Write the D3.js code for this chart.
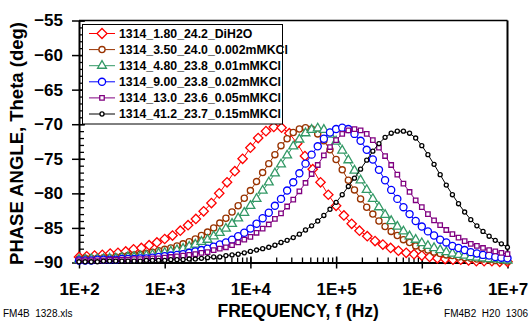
<!DOCTYPE html>
<html><head><meta charset="utf-8">
<script src="https://cdn.jsdelivr.net/npm/d3@7"></script>
<style>
html,body{margin:0;padding:0;background:#fff;}
svg{display:block;font-family:"Liberation Sans",Arial,sans-serif;}
text{white-space:pre;}
</style></head>
<body><svg id="chart" width="530" height="322"></svg>
<script>
// ---- data ----
const freqA = [100,123,152,187,231,285,351,433,534,658,811,
 1000,1233,1520,1874,2310,2848,3511,4329,5337,6579,8111,
 1e4,12328,15199,18738,23101,28480,35112,43288,53367,65793,81113,
 1e5,123285,151991,187382,231013,284804,351119,432876,533670,657933,811131,
 1e6,1232847,1519911,1873817,2310130,2848036,3511192,4328761,5336699,6579332,8111308,1e7];
const freqB = [100,117.9,139.0,163.8,193.1,227.6,268.3,316.2,372.8,439.4,517.9,610.5,719.7,848.3,
 1000,1179,1390,1638,1931,2276,2683,3162,3728,4394,5179,6105,7197,8483,
 1e4,11788,13895,16379,19307,22758,26827,31623,37276,43940,51795,61054,71969,84834,
 1e5,117877,138950,163789,193070,227585,268270,316228,372759,439397,517947,610540,719686,848343,
 1e6,1178769,1389495,1637894,1930698,2275846,2682696,3162278,3727594,4393971,5179475,6105402,7196857,8483429,1e7];

const thetaDiH2O = [-89.2,-89.1,-89.0,-88.9,-88.7,-88.6,-88.4,-88.1,-87.9,-87.5,
 -87.1,-86.6,-86.1,-85.4,-84.6,-83.7,-82.6,-81.4,-80.0,-78.4,
 -76.8,-75.0,-73.4,-72.0,-71.0,-70.4,-70.5,-71.3,-72.8,-74.6,
 -76.5,-78.4,-80.2,-81.8,-83.2,-84.4,-85.4,-86.2,-86.9,-87.4,
 -87.9,-88.3,-88.6,-88.8,-89.0,-89.2,-89.4,-89.5,-89.6,-89.6,
 -89.7,-89.8,-89.8,-89.8,-89.9,-89.9];
const theta0002 = [-89.5,-89.4,-89.4,-89.4,-89.3,-89.3,-89.2,-89.1,-89.0,-88.9,
 -88.8,-88.7,-88.5,-88.3,-88.1,-87.9,-87.6,-87.3,-87.0,-86.6,
 -86.1,-85.6,-85.0,-84.3,-83.6,-82.7,-81.8,-80.7,-79.6,-78.3,
 -77.0,-75.7,-74.4,-73.1,-72.1,-71.2,-70.7,-70.5,-70.7,-71.4,
 -72.4,-73.7,-75.1,-76.6,-78.1,-79.5,-80.8,-82.0,-83.0,-84.0,
 -84.8,-85.5,-86.1,-86.7,-87.1,-87.6,-87.9,-88.2,-88.5,-88.7,
 -88.9,-89.0,-89.2,-89.3,-89.4,-89.5,-89.5,-89.6,-89.7,-89.7,-89.8];
const theta001 = [-89.6,-89.6,-89.5,-89.5,-89.5,-89.4,-89.4,-89.3,-89.2,-89.2,
 -89.1,-89.0,-88.9,-88.7,-88.6,-88.4,-88.2,-88.0,-87.7,-87.4,
 -87.0,-86.7,-86.2,-85.7,-85.1,-84.4,-83.6,-82.8,-81.8,-80.8,
 -79.6,-78.4,-77.1,-75.8,-74.5,-73.2,-72.2,-71.3,-70.8,-70.6,
 -70.8,-71.5,-72.5,-73.8,-75.2,-76.7,-78.1,-79.5,-80.8,-82.0,
 -83.1,-84.0,-84.8,-85.5,-86.2,-86.7,-87.2,-87.6,-87.9,-88.2,
 -88.5,-88.7,-88.9,-89.0,-89.2,-89.3,-89.4,-89.5,-89.5,-89.6,-89.7];
const theta002 = [-89.7,-89.7,-89.7,-89.6,-89.6,-89.6,-89.6,-89.5,-89.5,-89.5,
 -89.4,-89.4,-89.3,-89.2,-89.1,-89.0,-88.9,-88.8,-88.6,-88.4,
 -88.2,-88.0,-87.7,-87.4,-87.1,-86.7,-86.2,-85.7,-85.1,-84.4,
 -83.6,-82.8,-81.8,-80.8,-79.6,-78.4,-77.1,-75.7,-74.4,-73.2,
 -72.1,-71.2,-70.7,-70.5,-70.7,-71.4,-72.4,-73.7,-75.1,-76.6,
 -78.1,-79.5,-80.8,-82.0,-83.0,-84.0,-84.8,-85.5,-86.1,-86.7,
 -87.1,-87.6,-87.9,-88.2,-88.5,-88.7,-88.9,-89.0,-89.2,-89.3,-89.4];
const theta005 = [-89.7,-89.7,-89.7,-89.7,-89.7,-89.6,-89.6,-89.6,-89.6,-89.5,
 -89.5,-89.5,-89.4,-89.4,-89.3,-89.2,-89.1,-89.0,-88.9,-88.8,
 -88.6,-88.5,-88.2,-88.0,-87.8,-87.5,-87.1,-86.7,-86.3,-85.7,
 -85.1,-84.5,-83.7,-82.9,-81.9,-80.9,-79.7,-78.5,-77.2,-75.9,
 -74.5,-73.3,-72.3,-71.4,-70.9,-70.7,-70.9,-71.4,-72.3,-73.4,
 -74.6,-75.9,-77.3,-78.6,-79.8,-81.0,-82.0,-83.0,-83.9,-84.6,
 -85.3,-85.9,-86.4,-86.9,-87.3,-87.6,-87.9,-88.2,-88.4,-88.6,-88.8];
const theta015 = [-89.9,-89.9,-89.9,-89.9,-89.8,-89.8,-89.8,-89.8,-89.8,-89.8,
 -89.8,-89.7,-89.7,-89.7,-89.7,-89.6,-89.6,-89.6,-89.5,-89.5,
 -89.4,-89.3,-89.2,-89.2,-89.0,-88.9,-88.8,-88.6,-88.4,-88.2,
 -88.0,-87.8,-87.5,-87.1,-86.8,-86.4,-85.9,-85.3,-84.7,-84.0,
 -83.2,-82.3,-81.3,-80.2,-79.0,-77.8,-76.5,-75.2,-73.9,-72.8,
 -71.9,-71.3,-71.0,-71.0,-71.3,-72.0,-73.1,-74.4,-75.8,-77.3,
 -78.8,-80.2,-81.5,-82.7,-83.8,-84.7,-85.5,-86.2,-86.8,-87.3,-87.8];

const seriesLabels = ["1314_1.80_24.2_DiH2O","1314_3.50_24.0_0.002mMKCl","1314_4.80_23.8_0.01mMKCl",
  "1314_9.00_23.8_0.02mMKCl","1314_13.0_23.6_0.05mMKCl","1314_41.2_23.7_0.15mMKCl"];
const seriesValues = [thetaDiH2O, theta0002, theta001, theta002, theta005, theta015];
const seriesFreqs = [freqA, freqB, freqB, freqB, freqB, freqB];
const seriesColors = ["#FF0000","#993300","#339966","#0000FF","#800080","#000000"];
const seriesSymbols = ["diamond","circle","triangle","circle","square","circle"];
const seriesSizes = [44, 30, 34, 40, 20, 13];

const xTickValues = [1e2,1e3,1e4,1e5,1e6,1e7];
const xTickLabels = ["1E+2","1E+3","1E+4","1E+5","1E+6","1E+7"];
const yTickValues = [-55,-60,-65,-70,-75,-80,-85,-90];

// ---- drawing ----
const svg = d3.select("#chart");
const L = 79, R = 507.5, T = 20.5, B = 262.5;
const x = d3.scaleLog().domain([1e2,1e7]).range([L,R]);
const y = d3.scaleLinear().domain([-90,-55]).range([B,T]);

const tickFont = "bold 17px 'Liberation Sans', Arial, sans-serif";

// minor ticks (inside)
const xMinor = [];
for (let e = 2; e < 7; e++) for (let m = 1; m <= 9; m++) xMinor.push(m * Math.pow(10, e));
xMinor.push(1e7);
svg.append("g").attr("transform", `translate(0,${B})`)
  .call(d3.axisBottom(x).tickValues(xMinor).tickSize(-5).tickSizeOuter(0).tickFormat(""))
  .call(g => g.select(".domain").remove())
  .call(g => g.selectAll("line").attr("stroke","#000").attr("stroke-width",1.3));
const yMinor = d3.range(-90, -54, 1);
svg.append("g").attr("transform", `translate(${L},0)`)
  .call(d3.axisLeft(y).tickValues(yMinor).tickSize(-5).tickSizeOuter(0).tickFormat(""))
  .call(g => g.select(".domain").remove())
  .call(g => g.selectAll("line").attr("stroke","#000").attr("stroke-width",1.3));

// plot frame (top, right)
svg.append("line").attr("x1",L).attr("x2",R).attr("y1",T).attr("y2",T).attr("stroke","#000").attr("stroke-width",1.5);
svg.append("line").attr("x1",R).attr("x2",R).attr("y1",T).attr("y2",B).attr("stroke","#000").attr("stroke-width",2);

// major axes
const xAxis = svg.append("g").attr("transform", `translate(0,${B})`)
  .call(d3.axisBottom(x).tickValues(xTickValues).tickSize(6).tickSizeOuter(0).tickPadding(14)
    .tickFormat((d,i) => xTickLabels[i]));
xAxis.select(".domain").attr("stroke","#000").attr("stroke-width",2);
xAxis.selectAll(".tick line").attr("y1",-6).attr("stroke","#000").attr("stroke-width",1.5);
xAxis.selectAll("text").style("font", tickFont).attr("fill","#000");

const yAxis = svg.append("g").attr("transform", `translate(${L},0)`)
  .call(d3.axisLeft(y).tickValues(yTickValues).tickSize(7).tickSizeOuter(0).tickPadding(9)
    .tickFormat(d3.format("d")));
yAxis.select(".domain").attr("stroke","#000").attr("stroke-width",2);
yAxis.selectAll(".tick line").attr("x1",6).attr("stroke","#000").attr("stroke-width",1.5);
yAxis.selectAll("text").style("font", tickFont).attr("fill","#000");

// series
function symbolPath(kind, size) {
  const t = kind === "circle" ? d3.symbolCircle : kind === "triangle" ? d3.symbolTriangle : d3.symbolSquare;
  return d3.symbol().type(t).size(size)();
}
const line = d3.line().x(d => x(d[0])).y(d => y(d[1]));
seriesValues.forEach((vals, si) => {
  const pts = vals.map((v, i) => [seriesFreqs[si][i], v]);
  const g = svg.append("g");
  g.append("path").attr("d", line(pts)).attr("fill","none")
    .attr("stroke", seriesColors[si]).attr("stroke-width", 1);
  g.selectAll("path.m").data(pts).enter().append("path").attr("class","m")
    .attr("d", symbolPath(seriesSymbols[si], seriesSizes[si]))
    .attr("transform", d => `translate(${x(d[0])},${y(d[1])})` + (seriesSymbols[si]==="diamond" ? " rotate(45)" : ""))
    .attr("fill","#fff").attr("stroke", seriesColors[si]).attr("stroke-width", 1.3);
});

// legend
const lg = svg.append("g");
lg.append("rect").attr("x",82.5).attr("y",24.5).attr("width",200).attr("height",99.5)
  .attr("fill","#fff").attr("stroke","#000").attr("stroke-width",1);
seriesLabels.forEach((lab, i) => {
  const cy = 33.5 + i * 16.1;
  lg.append("line").attr("x1",89).attr("x2",115).attr("y1",cy).attr("y2",cy)
    .attr("stroke",seriesColors[i]).attr("stroke-width",1);
  lg.append("path").attr("d", symbolPath(seriesSymbols[i], i===0 ? 50 : seriesSizes[i]))
    .attr("transform", `translate(102,${cy})` + (seriesSymbols[i]==="diamond" ? " rotate(45)" : ""))
    .attr("fill","#fff").attr("stroke",seriesColors[i]).attr("stroke-width",1.3);
  lg.append("text").attr("x",119).attr("y",cy+4.3).text(lab)
    .style("font","bold 12.3px 'Liberation Sans', Arial, sans-serif").attr("fill","#000");
});

// titles
svg.append("text").attr("x", (L+R)/2 + 5).attr("y", 317).attr("text-anchor","middle")
  .style("font","bold 17.5px 'Liberation Sans', Arial, sans-serif").text("FREQUENCY, f (Hz)");
svg.append("text").attr("transform", `translate(23,${(T+B)/2 + 2}) rotate(-90)`).attr("text-anchor","middle")
  .style("font","bold 18.5px 'Liberation Sans', Arial, sans-serif").text("PHASE ANGLE, Theta (deg)");
svg.append("text").attr("x",3).attr("y",317).style("font","10px 'Liberation Sans', Arial, sans-serif").text("FM4B  1328.xls");
svg.append("text").attr("x",528).attr("y",317).attr("text-anchor","end")
  .style("font","10px 'Liberation Sans', Arial, sans-serif").text("FM4B2  H20  1306");
</script></body></html>
